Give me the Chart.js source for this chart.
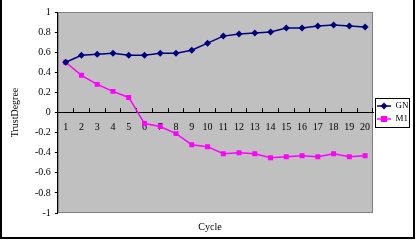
<!DOCTYPE html>
<html>
<head>
<meta charset="utf-8">
<script src="https://cdn.jsdelivr.net/npm/chart.js@4/dist/chart.umd.min.js"></script>
<style>
  html, body { margin: 0; padding: 0; background: #fff; }
  #wrap { width: 416px; height: 240px; }
</style>
</head>
<body>
<div id="wrap"><canvas id="myChart" width="416" height="240"></canvas></div>
<script>
const cycles = ['1', '2', '3', '4', '5', '6', '7', '8', '9', '10', '11', '12', '13', '14', '15', '16', '17', '18', '19', '20'];
const gnValues = [0.50, 0.57, 0.58, 0.59, 0.57, 0.57, 0.59, 0.59, 0.62, 0.69, 0.76, 0.78, 0.79, 0.80, 0.84, 0.84, 0.86, 0.87, 0.86, 0.85];
const m1Values = [0.50, 0.37, 0.28, 0.21, 0.15, -0.11, -0.14, -0.21, -0.32, -0.34, -0.41, -0.40, -0.41, -0.45, -0.44, -0.43, -0.44, -0.41, -0.44, -0.43];

const FONT = '"Liberation Serif", "DejaVu Serif", serif';

// little line+marker icon for the legend
function legendIcon(color, shape) {
    const c = document.createElement('canvas');
    c.width = 14; c.height = 8;
    const ctx = c.getContext('2d');
    ctx.strokeStyle = color;
    ctx.fillStyle = color;
    ctx.lineWidth = 1.5;
    ctx.beginPath();
    ctx.moveTo(0, 4); ctx.lineTo(14, 4);
    ctx.stroke();
    ctx.beginPath();
    if (shape === 'diamond') {
        ctx.moveTo(7, 0.5); ctx.lineTo(10.5, 4); ctx.lineTo(7, 7.5); ctx.lineTo(3.5, 4);
    } else {
        ctx.rect(4, 1, 6, 6);
    }
    ctx.fill();
    return c;
}

const frame = {
    id: 'frame',
    beforeDraw(chart) {
        const ctx = chart.ctx;
        const a = chart.chartArea;
        ctx.save();
        ctx.fillStyle = '#fff';
        ctx.fillRect(0, 0, chart.width, chart.height);
        ctx.fillStyle = '#c0c0c0';
        ctx.fillRect(a.left, a.top, a.right - a.left, a.bottom - a.top);
        ctx.strokeStyle = '#808080';
        ctx.lineWidth = 1;
        ctx.strokeRect(a.left + 0.5, a.top + 0.5, a.right - a.left - 1, a.bottom - a.top - 1);
        ctx.restore();
    },
    afterDraw(chart) {
        const ctx = chart.ctx;
        ctx.save();
        ctx.strokeStyle = '#000';
        ctx.lineWidth = 2;
        ctx.beginPath();
        ctx.moveTo(1, 0); ctx.lineTo(1, 238);
        ctx.lineTo(414, 238); ctx.lineTo(414, 0);
        ctx.stroke();
        // legend box
        const boxes = chart.legend.legendHitBoxes;
        if (boxes && boxes.length) {
            let x0 = Infinity, y0 = Infinity, x1 = -Infinity, y1 = -Infinity;
            boxes.forEach(b => {
                x0 = Math.min(x0, b.left); y0 = Math.min(y0, b.top);
                x1 = Math.max(x1, b.left + b.width); y1 = Math.max(y1, b.top + b.height);
            });
            ctx.lineWidth = 1;
            ctx.strokeRect(Math.round(x0 - 2) + 0.5, Math.round(y0 - 4) + 0.5, Math.round(x1 - x0 + 3), Math.round(y1 - y0 + 7));
        }
        ctx.restore();
    }
};

const data = {
    labels: cycles,
    datasets: [
        {
            label: 'GN',
            data: gnValues,
            borderColor: '#000080',
            backgroundColor: '#000080',
            borderWidth: 1.5,
            pointStyle: 'rectRot',
            pointRadius: 3.5,
            pointBorderWidth: 0,
            tension: 0
        },
        {
            label: 'M1',
            data: m1Values,
            borderColor: '#ff00ff',
            backgroundColor: '#ff00ff',
            borderWidth: 1.5,
            pointStyle: 'rect',
            pointRadius: 3.5,
            pointBorderWidth: 0,
            tension: 0
        }
    ]
};

const icons = [legendIcon('#000080', 'diamond'), legendIcon('#ff00ff', 'square')];

const config = {
    type: 'line',
    data: data,
    plugins: [frame],
    options: {
        responsive: false,
        animation: false,
        layout: { padding: { top: 12, left: 9, right: 5, bottom: 0 } },
        plugins: {
            legend: {
                position: 'right',
                align: 'center',
                fullSize: false,
                maxWidth: 38,
                labels: {
                    usePointStyle: true,
                    pointStyleWidth: 14,
                    padding: 4,
                    color: '#000',
                    font: { family: FONT, size: 9 },
                    generateLabels(chart) {
                        return chart.data.datasets.map((ds, i) => ({
                            text: ds.label,
                            pointStyle: icons[i],
                            fontColor: '#000',
                            datasetIndex: i,
                            lineWidth: 0
                        }));
                    }
                }
            },
            title: {
                display: true,
                position: 'bottom',
                text: 'Cycle',
                color: '#000',
                font: { family: FONT, size: 10, weight: 'normal' },
                padding: { top: 8, bottom: 7 }
            },
            tooltip: { enabled: false }
        },
        scales: {
            x: {
                position: { y: 0 },
                offset: true,
                border: { display: true, color: '#000', width: 1 },
                grid: { offset: true, drawOnChartArea: false, tickLength: -5, color: '#000' },
                ticks: { color: '#000', font: { family: FONT, size: 10 }, padding: 14, maxRotation: 0, autoSkip: false }
            },
            y: {
                min: -1,
                max: 1,
                border: { display: true, color: '#000', width: 1 },
                grid: { drawOnChartArea: false, tickLength: 3, color: '#000' },
                ticks: {
                    stepSize: 0.2,
                    color: '#000',
                    padding: 4,
                    font: { family: FONT, size: 10 },
                    callback: v => {
                        const r = Math.round(v * 10) / 10;
                        return r === 0 ? '0' : String(r);
                    }
                },
                title: {
                    display: true,
                    text: 'TrustDegree',
                    color: '#000',
                    font: { family: FONT, size: 10 },
                    padding: { top: 0, bottom: 10 }
                }
            }
        }
    }
};

const myChart = new Chart(document.getElementById('myChart'), config);
</script>
</body>
</html>
